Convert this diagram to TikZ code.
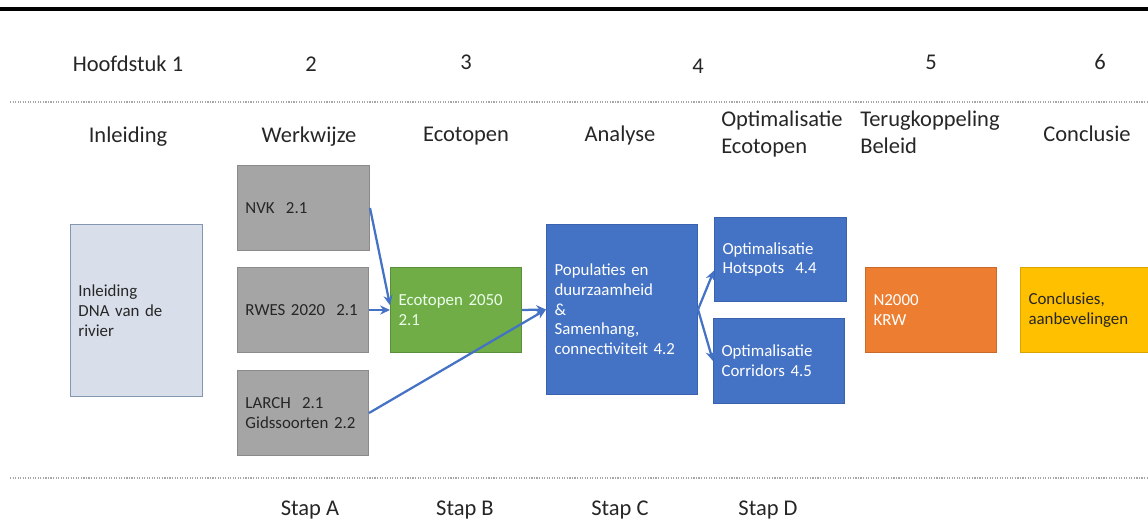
\documentclass[tikz,border=0pt]{standalone}
\usepackage{fontspec}
\setmainfont{Carlito}
\usetikzlibrary{arrows.meta,positioning}

\definecolor{introfill}{HTML}{D9DFEA}
\definecolor{introline}{HTML}{8497B0}
\definecolor{grayfill}{HTML}{A5A5A5}
\definecolor{grayline}{HTML}{8A8A8A}
\definecolor{greenfill}{HTML}{70AD47}
\definecolor{greenline}{HTML}{5A8F3A}
\definecolor{bluefill}{HTML}{4472C4}
\definecolor{blueline}{HTML}{3A62AE}
\definecolor{orangefill}{HTML}{ED7D31}
\definecolor{orangeline}{HTML}{C76A2A}
\definecolor{yellowfill}{HTML}{FFC000}
\definecolor{yellowline}{HTML}{D9A400}
\definecolor{dotgray}{HTML}{A6A6A6}

\begin{document}
\begin{tikzpicture}[x=0.025cm, y=-0.025cm,
    head/.style={font=\fontsize{16}{18.5}\selectfont, inner sep=0pt, anchor=base, text=black!85},
    headl/.style={head, anchor=base west, align=left},
    box/.style={draw, rectangle, line width=0.7pt, anchor=north west, inner xsep=0.2cm,
      inner ysep=0pt, align=left, font=\fontsize{12}{14}\selectfont},
    graybox/.style={box, fill=grayfill, draw=grayline, text=black!85},
    bluebox/.style={box, fill=bluefill, draw=blueline, text=white},
    flow/.style={draw=bluefill, line width=1.6pt, -{Stealth[length=7pt,width=6.5pt]}},
    sep/.style={dotgray, densely dotted, line width=0.8pt}]
    \useasboundingbox (0,0) rectangle (1148,519);
    % Rules
    \draw[line width=2.2pt] (0,9) -- (1148,9);
    \draw[sep] (10,102) -- (1148,102);
    \draw[sep] (10,478) -- (1148,478);
    % Chapters
    \node[head] (ch1) at (128,71) {Hoofdstuk 1};
    \node[head] (ch2) at (311,71) {2};
    \node[head] (ch3) at (466,70) {3};
    \node[head] (ch4) at (698,74) {4};
    \node[head] (ch5) at (931,70) {5};
    \node[head] (ch6) at (1100,70) {6};
    % Titles
    \node[head] (t1) at (128,142) {Inleiding};
    \node[head] (t2) at (309,142) {Werkwijze};
    \node[head] (t3) at (466,141) {Ecotopen};
    \node[head] (t4) at (620,141) {Analyse};
    \node[headl] (t5) at (721,153) {Optimalisatie\\Ecotopen};
    \node[headl] (t6) at (860,153) {Terugkoppeling\\Beleid};
    \node[head] (t7) at (1087,141) {Conclusie};
    % Boxes
    \node[box, fill=introfill, draw=introline, text=black!85, text width=2.9cm, minimum height=4.3cm]
      (intro) at (70,224) {Inleiding\\DNA van de\\rivier};
    \node[graybox, text width=2.9cm, minimum height=2.125cm] (nvk) at (237,165) {NVK~~2.1};
    \node[graybox, text width=2.875cm, minimum height=2.125cm] (rwes) at (237,267) {RWES 2020~~2.1};
    \node[graybox, text width=2.875cm, minimum height=2.125cm] (larch) at (237,370) {LARCH~~2.1\\Gidssoorten 2.2};
    \node[box, fill=greenfill, draw=greenline, text=white!92!green, text width=2.875cm, minimum height=2.125cm]
      (eco) at (390,267) {Ecotopen 2050\\2.1};
    \node[bluebox, text width=3.375cm, minimum height=4.25cm] (pop) at (546,224)
      {Populaties en\\duurzaamheid\\\&\\Samenhang,\\connectiviteit 4.2};
    \node[bluebox, text width=2.9cm, minimum height=2.1cm] (hot) at (714,217) {Optimalisatie\\Hotspots~~4.4};
    \node[bluebox, text width=2.875cm, minimum height=2.125cm] (cor) at (713,318) {Optimalisatie\\Corridors 4.5};
    \node[box, fill=orangefill, draw=orangeline, text=white, text width=2.875cm, minimum height=2.125cm]
      (n2k) at (865,267) {N2000\\KRW};
    \node[box, fill=yellowfill, draw=yellowline, text=black!85, text width=2.9cm, minimum height=2.125cm]
      (concl) at (1020,267) {Conclusies,\\aanbevelingen};
    % Arrows
    \draw[flow] (nvk.east) -- ([yshift=0.12cm]eco.west);
    \draw[flow] (rwes.east) -- (eco.west);
    \draw[flow] (larch.east) -- (pop.west);
    \draw[flow] (eco.east) -- (pop.west);
    \draw[flow] (pop.east) -- ([yshift=-0.275cm]hot.west);
    \draw[flow] (pop.east) -- (cor.west);
    % Steps
    \node[head] (sa) at (310,515) {Stap A};
    \node[head] (sb) at (465,515) {Stap B};
    \node[head] (sc) at (620,515) {Stap C};
    \node[head] (sd) at (768,515) {Stap D};
\end{tikzpicture}
\end{document}
